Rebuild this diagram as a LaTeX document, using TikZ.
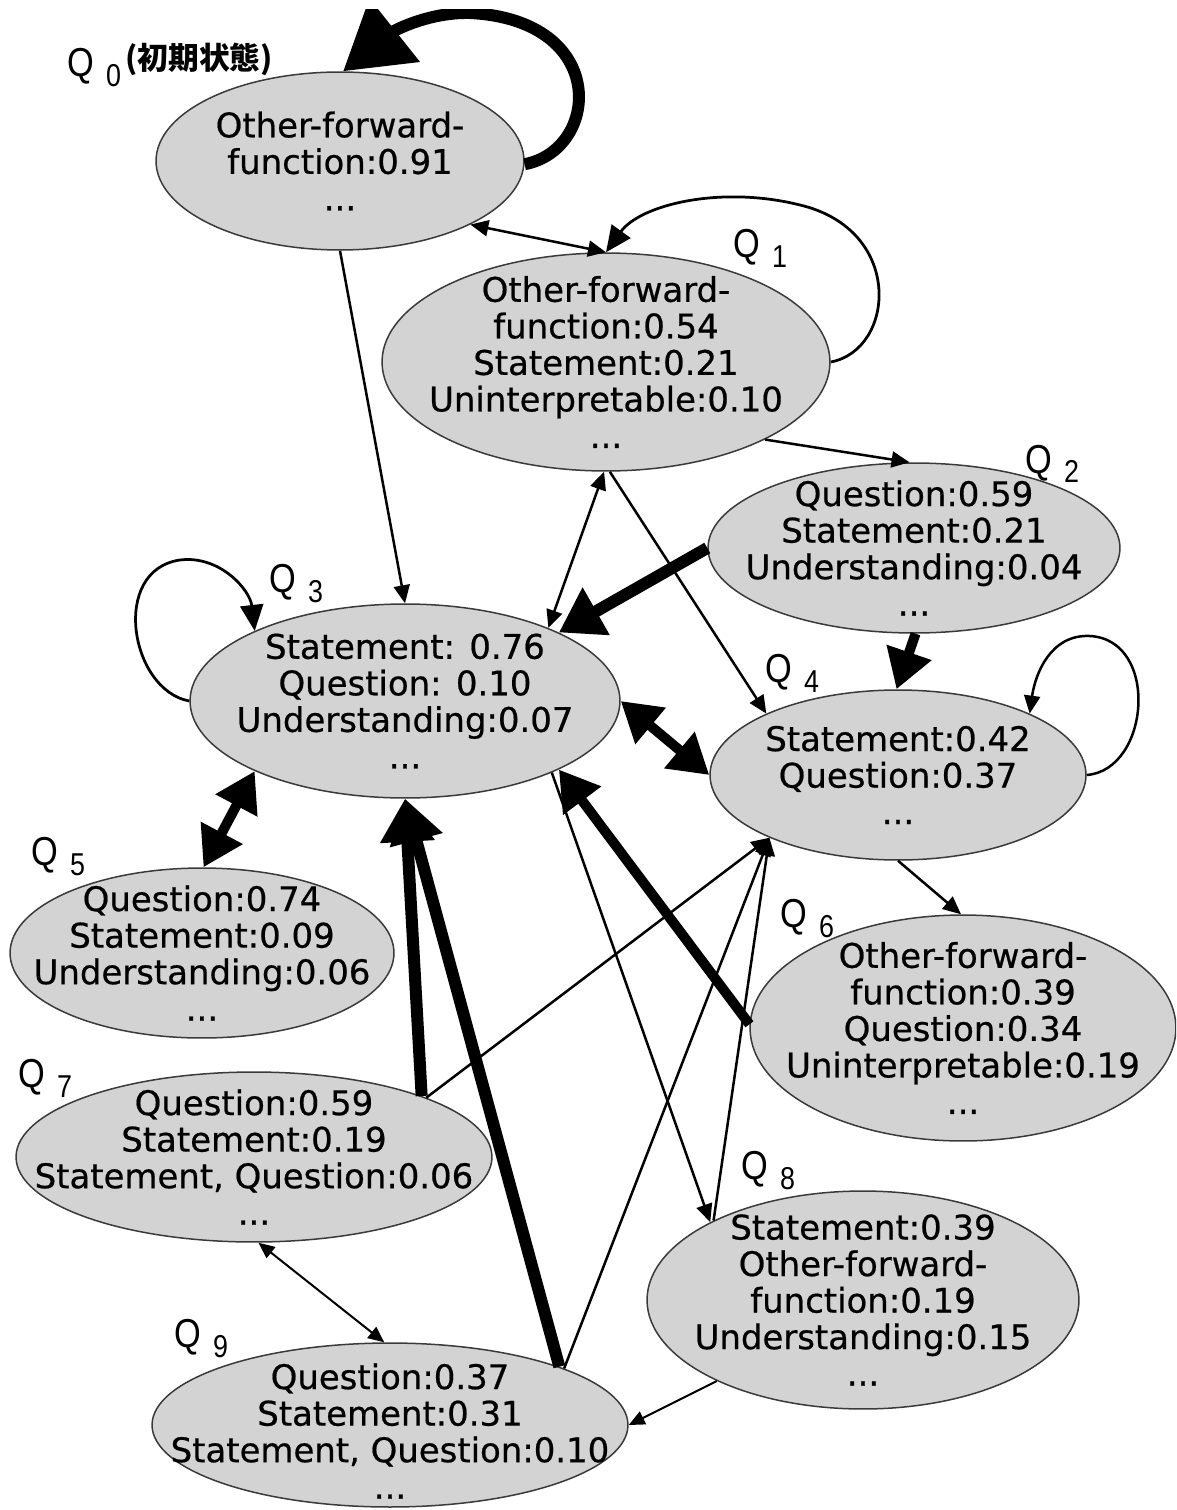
\documentclass[tikz,border=0pt]{standalone}
\usepackage{fontspec}
\setmainfont{DejaVu Sans}[FakeBold=0.6]
\newfontfamily\qfont{Liberation Sans}[FakeStretch=0.85]
\newfontfamily\jpfont{Noto Sans CJK JP}
\usetikzlibrary{arrows.meta, shapes.geometric}
\definecolor{statefill}{HTML}{D3D3D3}
\definecolor{stateline}{HTML}{3A3A3A}
\newcommand{\qsub}[1]{\hspace{0.24cm}\raisebox{-0.2cm}{\fontsize{18}{18}\selectfont #1}}

\begin{document}
\begin{tikzpicture}[
  x=0.02cm, y=-0.02cm,
  state/.style={ellipse, draw=stateline, fill=statefill, line width=0.03cm, inner sep=0pt},
  statetext/.style={align=center, inner sep=0pt, font=\fontsize{19.3}{20.8}\selectfont},
  qlabel/.style={anchor=base west, inner sep=0pt, font=\qfont\fontsize{23}{23}\selectfont},
  thinedge/.style={line width=0.05cm, >={Triangle[length=0.36cm, width=0.32cm]}},
  fineedge/.style={line width=0.04cm, >={Triangle[length=0.32cm, width=0.28cm]}},
  loopthin/.style={line width=0.055cm, >={Triangle[length=0.52cm, width=0.46cm]}},
  thickedge/.style={line width=0.2cm, >={Triangle[length=0.78cm, width=0.9cm]}},
  heavyedge/.style={line width=0.24cm, >={Triangle[length=0.86cm, width=1.04cm]}},
  loopedge/.style={line width=0.24cm, >={Triangle[length=1.32cm, width=1.56cm]}},
]

% Canvas (pixel units), top edge cut off as in the original
\useasboundingbox (0,0) rectangle (1176,1510);
\clip (0,10) rectangle (1176,1510);

% --- States ---
\node[state, minimum width=7.36cm, minimum height=3.56cm] (q0) at (340,161) {};
\node[state, minimum width=8.96cm, minimum height=4.36cm] (q1) at (606,362) {};
\node[state, minimum width=8.24cm, minimum height=3.40cm] (q2) at (914,548) {};
\node[state, minimum width=8.60cm, minimum height=3.88cm] (q3) at (405,701) {};
\node[state, minimum width=7.52cm, minimum height=3.40cm] (q4) at (898,775) {};
\node[state, minimum width=7.68cm, minimum height=3.40cm] (q5) at (202,953) {};
\node[state, minimum width=8.52cm, minimum height=4.52cm] (q6) at (963,1028) {};
\node[state, minimum width=9.52cm, minimum height=3.40cm] (q7) at (254,1157) {};
\node[state, minimum width=8.64cm, minimum height=4.36cm] (q8) at (863,1300) {};
\node[state, minimum width=9.52cm, minimum height=3.28cm] (q9) at (390,1425) {};

% --- State labels ---
\node[qlabel] (lq0) at (67,77) {Q\qsub{0}};
\node[anchor=base west, inner sep=0pt, font=\jpfont\bfseries\fontsize{17.5}{17.5}\selectfont]
  (lq0note) at (125,70) {(初期状態)};
\node[qlabel] (lq1) at (733,258) {Q\qsub{1}};
\node[qlabel] (lq2) at (1025,473) {Q\qsub{2}};
\node[qlabel] (lq3) at (269,592) {Q\qsub{3}};
\node[qlabel] (lq4) at (765,682) {Q\qsub{4}};
\node[qlabel] (lq5) at (31,865) {Q\qsub{5}};
\node[qlabel] (lq6) at (780,927) {Q\qsub{6}};
\node[qlabel] (lq7) at (18,1087) {Q\qsub{7}};
\node[qlabel] (lq8) at (741,1179) {Q\qsub{8}};
\node[qlabel] (lq9) at (174,1347) {Q\qsub{9}};

% --- Self loops ---
\draw[loopedge, ->] (q0.-1) .. controls (600,150) and (610,20) .. (470,13)
  .. controls (430,12) and (395,30) .. (q0.88);
\draw[loopthin, ->] (q1.0) .. controls (895,350) and (905,230) .. (800,205)
  .. controls (720,185) and (640,205) .. (q1.90);
\draw[loopthin, ->] (q3.180) .. controls (130,690) and (110,570) .. (180,560)
  .. controls (220,555) and (250,590) .. (q3.155);
\draw[thinedge, ->] (q4.0) .. controls (1150,770) and (1160,640) .. (1090,636)
  .. controls (1050,634) and (1035,675) .. (q4.25);

% --- Thin transitions ---
\draw[thinedge, <->] (q0.-26) -- (q1.90);
\draw[thinedge, ->] (q0.-90) -- (q3.90);
\draw[thinedge, ->] (q1.-26) -- (q2.93);
\draw[thinedge, <->] (q1.-91) -- (q3.27);
\draw[thinedge, ->] (q1.-88) -- (q4.155);
\draw[thinedge, ->] (q4.-90) -- (q6.91);
\draw[thinedge, ->] (q3.-26) -- (q8.153);
\draw[thinedge, ->] (q7.19) -- (q4.206);
\draw[thinedge, ->] (q9.18) -- (q4.206);
\draw[thinedge, ->] (q8.152) -- (q4.206);
\draw[fineedge, <->] (q7.-87) -- (q9.94);
\draw[fineedge, ->] (q8.209) -- (q9.0);

% --- Thick transitions ---
\draw[heavyedge, ->] (q2.180) -- (q3.24);
\draw[thickedge, ->] (q2.-89) -- (q4.91);
\draw[thickedge, <->] (q3.0) -- (q4.180);
\draw[thickedge, <->] (q3.205) -- (q5.89);
\draw[thickedge, ->] (q6.179) -- (q3.-24);
\draw[heavyedge, ->] (q7.20) -- (q3.-90);
\draw[heavyedge, ->] (q9.19) -- (q3.-90);

% --- State contents ---
\node[statetext] (t0) at (q0) {Other-forward-\\function:0.91\\...};
\node[statetext] (t1) at (q1) {Other-forward-\\function:0.54\\Statement:0.21\\Uninterpretable:0.10\\...};
\node[statetext] (t2) at (q2) {Question:0.59\\Statement:0.21\\Understanding:0.04\\...};
\node[statetext] (t3) at (q3) {Statement: 0.76\\Question: 0.10\\Understanding:0.07\\...};
\node[statetext] (t4) at (q4) {Statement:0.42\\Question:0.37\\...};
\node[statetext] (t5) at (q5) {Question:0.74\\Statement:0.09\\Understanding:0.06\\...};
\node[statetext] (t6) at (q6) {Other-forward-\\function:0.39\\Question:0.34\\Uninterpretable:0.19\\...};
\node[statetext] (t7) at (q7) {Question:0.59\\Statement:0.19\\Statement, Question:0.06\\...};
\node[statetext] (t8) at (q8) {Statement:0.39\\Other-forward-\\function:0.19\\Understanding:0.15\\...};
\node[statetext] (t9) at (390,1431) {Question:0.37\\Statement:0.31\\Statement, Question:0.10\\...};

\end{tikzpicture}
\end{document}
